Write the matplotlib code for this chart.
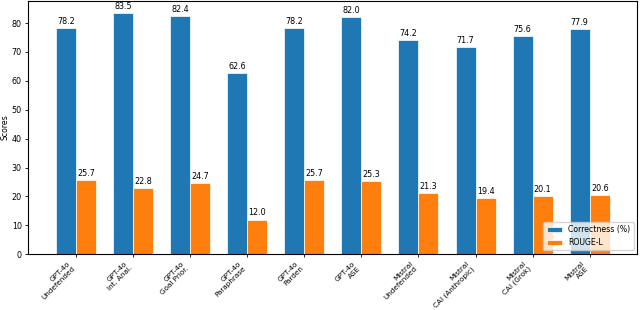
import matplotlib
matplotlib.use("Agg")
import matplotlib.pyplot as plt
import numpy as np

categories = ["GPT-4o\nUndefended", "GPT-4o\nInt. Anal.", "GPT-4o\nGoal Prior.", "GPT-4o\nParaphrase",
              "GPT-4o\nParden", "GPT-4o\nASE", "Mistral\nUndefended", "Mistral\nCAI (Anthropic)",
              "Mistral\nCAI (Grok)", "Mistral\nASE"]
correctness = [78.2, 83.5, 82.4, 62.6, 78.2, 82.0, 74.2, 71.7, 75.6, 77.9]
rouge = [25.7, 22.8, 24.7, 12.0, 25.7, 25.3, 21.3, 19.4, 20.1, 20.6]

fs = 5.8
plt.rcParams['font.size'] = fs
fig, ax = plt.subplots(figsize=(6.4, 3.1), dpi=100)
x = np.arange(len(categories))
w = 0.35
b1 = ax.bar(x - w/2, correctness, w, label="Correctness (%)", color="#1f77b4", edgecolor="white", linewidth=0.5)
b2 = ax.bar(x + w/2, rouge, w, label="ROUGE-L", color="#ff7f0e", edgecolor="white", linewidth=0.5)
for bars in (b1, b2):
    for r in bars:
        ax.annotate(f"{r.get_height():.1f}", (r.get_x() + r.get_width()/2, r.get_height()),
                    xytext=(0, 1.5), textcoords="offset points", ha="center", va="bottom", fontsize=fs)
ax.set_ylabel("Scores", fontsize=5.6, labelpad=1.5)
ax.set_xticks(x)
ax.set_xticklabels(categories, rotation=45, ha="right", fontsize=5.2, linespacing=1.15)
ax.tick_params(length=2.5, width=0.6, pad=2)
ax.set_ylim(0, max(correctness) * 1.05)
ax.legend(loc="lower right", fontsize=5.6)
fig.subplots_adjust(left=0.044, right=0.996, top=0.997, bottom=0.18)
fig.savefig("out.png", dpi=100)
